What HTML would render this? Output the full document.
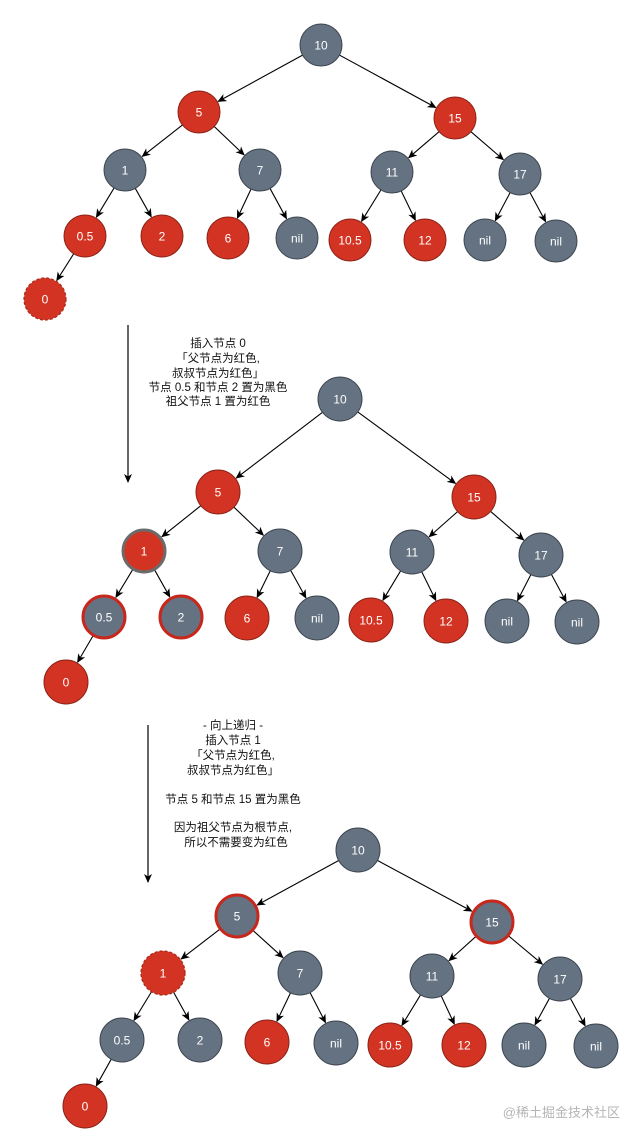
<!DOCTYPE html>
<html><head><meta charset="utf-8"><style>
html,body{margin:0;padding:0;background:#fff;}
svg{display:block;}
text{font-family:"Liberation Sans","Noto Sans CJK SC",sans-serif;}
</style></head><body>
<svg id="s" width="631" height="1140" viewBox="0 0 631 1140" xmlns="http://www.w3.org/2000/svg">
<defs><marker id="a" markerWidth="10" markerHeight="10" refX="8" refY="4" orient="auto" markerUnits="userSpaceOnUse"><path d="M0,0 L9,4 L0,8 L2.5,4 z" fill="#000"/></marker></defs>
<g id="g"></g>
<line x1="128" y1="325" x2="128" y2="482" stroke="#000" stroke-width="1.2" marker-end="url(#a)"/>
<line x1="148" y1="725" x2="148" y2="882" stroke="#000" stroke-width="1.2" marker-end="url(#a)"/>
<g font-size="11.5" text-anchor="middle" fill="#111">
<text x="218" y="347">插入节点 0</text>
<text x="218" y="362">「父节点为红色,</text>
<text x="218" y="377">叔叔节点为红色」</text>
<text x="218" y="391">节点 0.5 和节点 2 置为黑色</text>
<text x="218" y="405">祖父节点 1 置为红色</text>
<text x="233" y="729">- 向上递归 -</text>
<text x="233" y="744">插入节点 1</text>
<text x="233" y="759">「父节点为红色,</text>
<text x="233" y="774">叔叔节点为红色」</text>
<text x="233" y="803">节点 5 和节点 15 置为黑色</text>
<text x="233" y="831">因为祖父节点为根节点,</text>
<text x="236" y="846">所以不需要变为红色</text>
</g>
<text x="620" y="1117" font-size="13" text-anchor="end" fill="#b5b5b5">@稀土掘金技术社区</text>
</svg>
<script>
var G='#647282',R='#d33322';
var trees=[
 {r:21,n:[[321,45,'10',G],[199,112,'5',R],[455,118,'15',R],[125,170,'1',G],[260,170,'7',G],[392,172,'11',G],[520,174,'17',G],
  [85,236,'0.5',R],[162,236,'2',R],[228,238,'6',R],[297,238,'nil',G],[350,240,'10.5',R],[425,240,'12',R],[485,240,'nil',G],[556,241,'nil',G],[45,299,'0',R,'dash']]},
 {r:22,n:[[340,399,'10',G],[218,492,'5',R],[474,497,'15',R],[144,551,'1',R,'grayring'],[280,551,'7',G],[412,552,'11',G],[541,555,'17',G],
  [104,617,'0.5',G,'redring'],[181,617,'2',G,'redring'],[247,618,'6',R],[317,618,'nil',G],[371,620,'10.5',R],[446,621,'12',R],[507,621,'nil',G],[577,622,'nil',G],[66,682,'0',R]]},
 {r:22,n:[[358,850,'10',G],[237,916,'5',G,'redring'],[492,922,'15',G,'redring'],[163,973,'1',R,'dash'],[300,973,'7',G],[432,976,'11',G],[560,979,'17',G],
  [122,1040,'0.5',G],[200,1040,'2',G],[267,1042,'6',R],[336,1043,'nil',G],[390,1045,'10.5',R],[464,1045,'12',R],[524,1045,'nil',G],[596,1046,'nil',G],[85,1106,'0',R]]}
];
var edges=[[0,1],[0,2],[1,3],[1,4],[2,5],[2,6],[3,7],[3,8],[4,9],[4,10],[5,11],[5,12],[6,13],[6,14],[7,15]];
var h='';
trees.forEach(function(t){
 var r=t.r,n=t.n;
 edges.forEach(function(e){
  var p=n[e[0]],c=n[e[1]],dx=c[0]-p[0],dy=c[1]-p[1],L=Math.sqrt(dx*dx+dy*dy),ux=dx/L,uy=dy/L;
  h+='<line x1="'+(p[0]+ux*r)+'" y1="'+(p[1]+uy*r)+'" x2="'+(c[0]-ux*(r+1))+'" y2="'+(c[1]-uy*(r+1))+'" stroke="#000" stroke-width="1.1" marker-end="url(#a)"/>';
 });
 n.forEach(function(c){
  var st='#3d4650',sw=1,da='',rr=r;
  if(c[3]==R)st='#8a2418';
  if(c[4]=='dash'){st='#a52a1c';sw=1.2;da=' stroke-dasharray="3,2"';}
  if(c[4]=='redring'){st='#c8281c';sw=3;rr=r-1;}
  if(c[4]=='grayring'){st='#6b6b6b';sw=3;rr=r-1;}
  h+='<circle cx="'+c[0]+'" cy="'+c[1]+'" r="'+rr+'" fill="'+c[3]+'" stroke="'+st+'" stroke-width="'+sw+'"'+da+'/>';
  h+='<text x="'+c[0]+'" y="'+(c[1]+4.5)+'" font-size="12" text-anchor="middle" fill="#fff">'+c[2]+'</text>';
 });
});
document.getElementById('g').innerHTML=h;
</script>
</body></html>
